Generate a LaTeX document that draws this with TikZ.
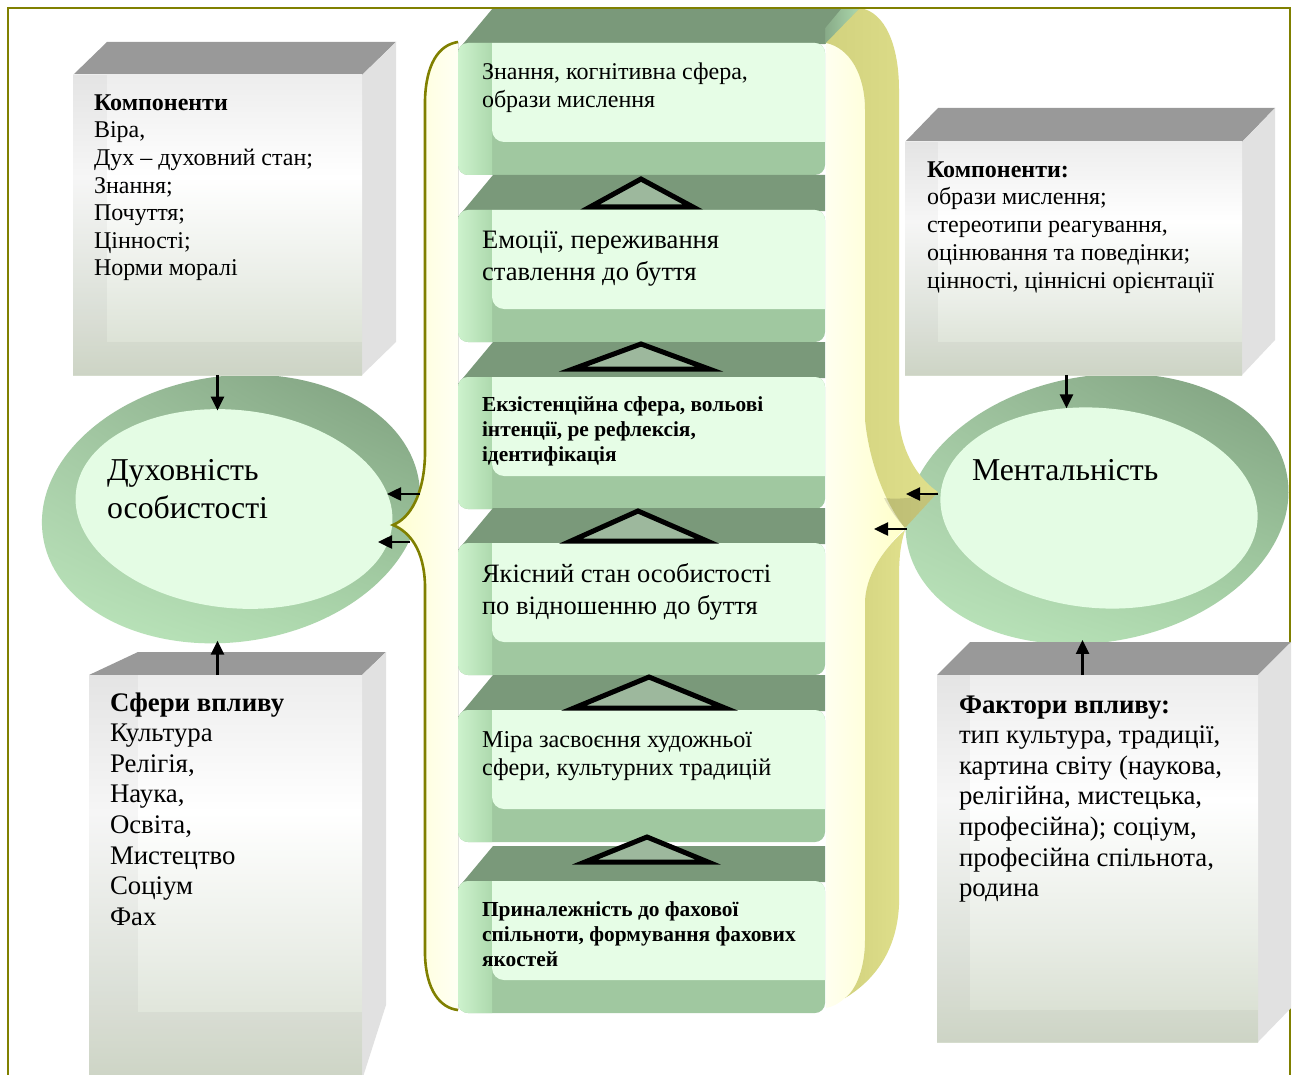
\documentclass[tikz,border=0pt]{standalone}
\usepackage{fontspec}
\setmainfont{Liberation Serif}
\usetikzlibrary{arrows.meta,shapes.geometric,shadings}
\definecolor{frameol}{HTML}{808000}
\definecolor{boxtopc}{HTML}{999999}
\definecolor{boxsidec}{HTML}{E1E1E1}
\definecolor{bxtopc}{HTML}{EDEDED}
\definecolor{bxmidc}{HTML}{E9EDE6}
\definecolor{bxbotc}{HTML}{D5DCCD}
\definecolor{stepdark}{HTML}{7A997A}
\definecolor{stepmid}{HTML}{A0C8A0}
\definecolor{steplight}{HTML}{E6FDE6}
\definecolor{stepleftA}{HTML}{CDF2CD}
\definecolor{stepleftB}{HTML}{ADD9AD}
\definecolor{trifill}{HTML}{9DB89D}
\definecolor{ringUL}{HTML}{9EC29E}
\definecolor{ringUR}{HTML}{7A9A7A}
\definecolor{ringLL}{HTML}{BFE9BF}
\definecolor{ringLR}{HTML}{ACD8AC}
\definecolor{elllight}{HTML}{E4FCE4}
\definecolor{khakiA}{HTML}{D2D27E}
\definecolor{khakiB}{HTML}{E0E08C}
\definecolor{paleA}{HTML}{FFFFF0}
\definecolor{paleB}{HTML}{FFFFC8}
\definecolor{braceA}{HTML}{FFFFD0}
\definecolor{braceB}{HTML}{FFFFF4}
\pgfdeclareverticalshading{boxfront}{100bp}{color(0bp)=(bxbotc); color(25bp)=(bxbotc); color(40bp)=(bxmidc); color(58bp)=(white); color(75bp)=(bxtopc); color(100bp)=(bxtopc)}
\begin{document}
\begin{tikzpicture}[x=1pt,y=-1pt,
  boxface/.style={rectangle,inner sep=0pt,outer sep=0pt,shade,shading=boxfront,anchor=north west},
  strip/.style={fill=black,opacity=0.035},
  txt/.style={inner sep=0pt,outer sep=0pt,align=left,anchor=north west,text=black},
  arr/.style={line width=2.5pt,-{Triangle[length=14pt,width=13pt]}},
  tri/.style={fill=trifill,draw=black,line width=5pt,line join=miter},
  ringnode/.style={ellipse,inner sep=0pt,outer sep=0pt,shade,upper left=ringUL,upper right=ringUR,lower left=ringLL,lower right=ringLR},
  innernode/.style={ellipse,inner sep=0pt,outer sep=0pt,fill=elllight},
]
\useasboundingbox (0,0) rectangle (1295,1075);
\fill[white] (0,0) rectangle (1295,1075);
\draw[frameol,line width=2pt] (1290,8) -- (1290,1080);

% ---- ellipses
\node[ringnode,minimum width=380pt,minimum height=266pt,rotate=8] (louter) at (231,509) {};
\node[innernode,minimum width=318pt,minimum height=198pt,rotate=-6] (linner) at (234,509) {};
\node[ringnode,minimum width=386pt,minimum height=266pt,rotate=10] (router) at (1097,509) {};
\node[innernode,minimum width=318pt,minimum height=200pt,rotate=-5] (rinner) at (1099,508) {};
\node[txt,font={\fontsize{31.8}{38}\selectfont}] (ltitle) at (107,459) {Духовність\\особистості};
\node[txt,font={\fontsize{31.8}{38}\selectfont}] (rtitle) at (972,459) {Ментальність};

% ---- box left top
\fill[boxtopc] (73,75) -- (107,42) -- (396,42) -- (362,75) -- cycle;
\fill[boxsidec] (362,75) -- (396,42) -- (396,342) -- (362,375) -- cycle;
\node[boxface,minimum width=289pt,minimum height=300pt] (ltbox) at (73,75) {};
\fill[strip] (73,75) rectangle (107,375);
\fill[strip] (107,342) rectangle (362,375);
\node[txt,font={\fontsize{24}{27.6}\selectfont}] (lttext) at (94,94.5)
  {\textbf{Компоненти}\\Віра,\\Дух – духовний стан;\\Знання;\\Почуття;\\Цінності;\\Норми моралі};

% ---- box right top
\fill[boxtopc] (905,142) -- (938,108) -- (1275,108) -- (1242,142) -- cycle;
\fill[boxsidec] (1242,142) -- (1275,108) -- (1275,340) -- (1242,375) -- cycle;
\node[boxface,minimum width=337pt,minimum height=233pt] (rtbox) at (905,142) {};
\fill[strip] (905,142) rectangle (938,375);
\fill[strip] (938,342) rectangle (1242,375);
\node[txt,font={\fontsize{24}{27.7}\selectfont}] (rttext) at (927,161.5)
  {\textbf{Компоненти:}\\образи мислення;\\стереотипи реагування,\\оцінювання та поведінки;\\цінності, ціннісні орієнтації};

% ---- box left bottom
\fill[boxtopc] (89,675) -- (138,652) -- (386,652) -- (362,675) -- cycle;
\fill[boxsidec] (362,675) -- (386,652) -- (386,1005) -- (362,1080) -- cycle;
\node[boxface,minimum width=273pt,minimum height=405pt] (lbbox) at (89,675) {};
\fill[strip] (89,675) rectangle (138,1080);
\fill[strip] (138,1012) rectangle (362,1080);
\node[txt,font={\fontsize{26.8}{30.6}\selectfont}] (lbtext) at (110,692.5)
  {\textbf{Сфери впливу}\\Культура\\Релігія,\\Наука,\\Освіта,\\Мистецтво\\Соціум\\Фах};

% ---- box right bottom
\fill[boxtopc] (937,675) -- (970,642) -- (1291,642) -- (1258,675) -- cycle;
\fill[boxsidec] (1258,675) -- (1291,642) -- (1291,1008) -- (1258,1042) -- cycle;
\node[boxface,minimum width=321pt,minimum height=367pt] (rbbox) at (937,675) {};
\fill[strip] (937,675) rectangle (970,1042);
\fill[strip] (970,1010) rectangle (1258,1042);
\node[txt,font={\fontsize{26.8}{30.6}\selectfont}] (rbtext) at (959,695.5)
  {\textbf{Фактори впливу:}\\тип культура, традиції,\\картина світу (наукова,\\релігійна, мистецька,\\професійна); соціум,\\професійна спільнота,\\родина};

% ---- left brace
\fill[left color=braceA,right color=braceB] (458,42) .. controls (438,45) and (426,65) .. (425,100) -- (425,455)
  .. controls (424,495) and (410,518) .. (393,525) .. controls (410,532) and (424,550) .. (425,585)
  -- (425,955) .. controls (426,990) and (440,1008) .. (458,1010) -- cycle;
\draw[frameol,line width=2.6pt] (458,42) .. controls (438,45) and (426,65) .. (425,100) -- (425,455)
  .. controls (424,495) and (410,518) .. (393,525) .. controls (410,532) and (424,550) .. (425,585)
  -- (425,955) .. controls (426,990) and (440,1008) .. (458,1010);

% ---- steps
\fill[stepdark] (700,8) -- (860,8) -- (826,44) -- (700,44) -- cycle;
\shade[left color=stepdark,right color=stepleftB] (812,44) -- (842,8) -- (860,8) -- (826,44) -- cycle;
\foreach \t in {8,175,342,508,675,846}{
  \fill[stepdark] (458,\t+42) -- (493,\t) -- (825,\t) -- (825,\t+36) -- cycle;
  \begin{scope}
    \clip[rounded corners=10pt] (458,\t+35) rectangle (825,\t+167);
    \fill[stepmid] (450,\t+30) rectangle (830,\t+170);
    \shade[left color=stepleftA,right color=stepleftB] (458,\t+35) rectangle (492,\t+167);
    \fill[steplight,rounded corners=12pt] (492,\t+20) rectangle (845,\t+134);
  \end{scope}
}
\draw[tri] (641,179) -- (590,207) -- (693,207) -- cycle;
\draw[tri] (641,344) -- (573,369) -- (709,369) -- cycle;
\draw[tri] (638,511) -- (571,541) -- (707,541) -- cycle;
\draw[tri] (649,677) -- (574,708) -- (725,708) -- cycle;
\draw[tri] (647,837) -- (585,862) -- (708,862) -- cycle;

\node[txt,font={\fontsize{24}{28.5}\selectfont}] (s1) at (482,62.5) {Знання, когнітивна сфера,\\образи мислення};
\node[txt,font={\fontsize{26.6}{32}\selectfont}] (s2) at (482,231) {Емоції, переживання\\ставлення до буття};
\node[txt,font={\fontsize{21.4}{25}\selectfont\bfseries}] (s3) at (482,396.5) {Екзістенційна сфера, вольові\\інтенції, ре рефлексія,\\ідентифікація};
\node[txt,font={\fontsize{26.5}{32}\selectfont}] (s4) at (482,564) {Якісний стан особистості\\по відношенню до буття};
\node[txt,font={\fontsize{24.2}{28}\selectfont}] (s5) at (482,731.5) {Міра засвоєння художньої\\сфери, культурних традицій};
\node[txt,font={\fontsize{21.4}{25}\selectfont\bfseries}] (s6) at (482,901.5) {Приналежність до фахової\\спільноти, формування фахових\\якостей};

% ---- right brace
\shade[left color=paleA,right color=paleB] (826,43) .. controls (850,48) and (865,75) .. (865,110) -- (865,420)
  .. controls (870,470) and (890,510) .. (905,528) .. controls (888,545) and (867,570) .. (865,600)
  -- (865,940) .. controls (865,968) and (856,990) .. (845,998) .. controls (838,1004) and (832,1007) .. (826,1008) -- cycle;
\shade[left color=khakiA,right color=khakiB] (860,8) .. controls (885,12) and (899,45) .. (899,90) -- (899,420)
  .. controls (902,455) and (920,480) .. (938,492) -- (905,528)
  .. controls (890,510) and (870,470) .. (865,420) -- (865,110) .. controls (865,75) and (850,48) .. (826,43) -- cycle;
\shade[left color=khakiA,right color=khakiB] (905,530) .. controls (900,545) and (899,560) .. (899,580) -- (899,905)
  .. controls (897,950) and (875,980) .. (845,998) .. controls (856,990) and (865,968) .. (865,940)
  -- (865,600) .. controls (867,570) and (888,545) .. (905,530) -- cycle;
\fill[black,opacity=0.12] (938,492) -- (905,528) .. controls (897,519) and (890,510) .. (884,498) .. controls (900,500) and (920,497) .. cycle;

% ---- connectors
\draw[arr] (ltbox.south) -- (ltbox.south |- linner.north);
\draw[arr] ([xshift=-8pt]lbbox.north) -- ([xshift=-8pt]lbbox.north |- louter.south);
\draw[arr] ([xshift=-7pt]rtbox.south) -- ([xshift=-7pt]rtbox.south |- rinner.north);
\draw[arr] ([xshift=-15pt]rbbox.north) -- ([xshift=-15pt]rbbox.north |- router.south);
\coordinate (lbr1) at (420,494); \coordinate (ltip1) at (387,494);
\coordinate (lbr2) at (410,542); \coordinate (ltip2) at (378,542);
\coordinate (rbr1) at (938,494); \coordinate (rtip1) at (906,494);
\coordinate (rbr2) at (907,529); \coordinate (rtip2) at (874,529);
\draw[arr] (lbr1) -- (ltip1);
\draw[arr] (lbr2) -- (ltip2);
\draw[arr] (rbr1) -- (rtip1);
\draw[arr] (rbr2) -- (rtip2);

% ---- frame (left and top)
\draw[frameol,line width=2pt] (8,1080) -- (8,8) -- (1291,8);
\end{tikzpicture}
\end{document}
